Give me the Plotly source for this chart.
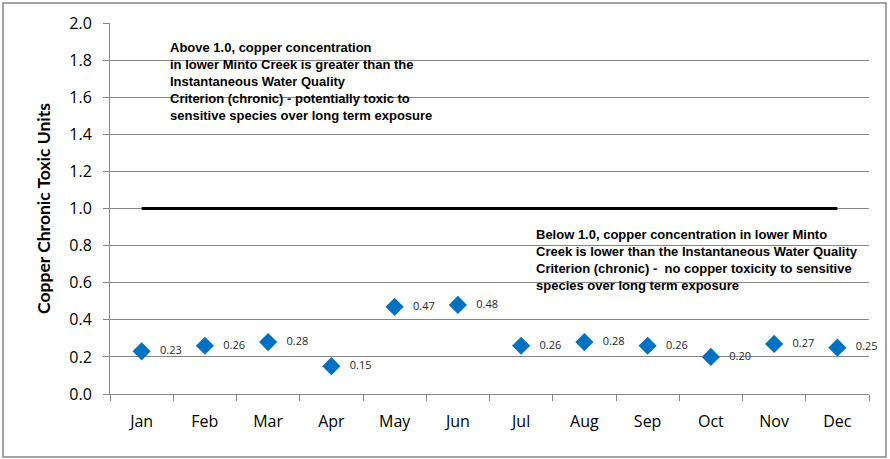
import plotly.graph_objects as go

months = ["Jan", "Feb", "Mar", "Apr", "May", "Jun", "Jul", "Aug", "Sep", "Oct", "Nov", "Dec"]
toxic_units = [0.23, 0.26, 0.28, 0.15, 0.47, 0.48, 0.26, 0.28, 0.26, 0.20, 0.27, 0.25]
threshold = [1.0] * 12
y_ticks = [0.0, 0.2, 0.4, 0.6, 0.8, 1.0, 1.2, 1.4, 1.6, 1.8, 2.0]

above_text = ("<b>Above 1.0, copper concentration<br>in lower Minto Creek is greater than the<br>"
              "Instantaneous Water Quality<br>Criterion (chronic) - potentially toxic to<br>"
              "sensitive species over long term exposure</b>")
below_text = ("<b>Below 1.0, copper concentration in lower Minto<br>Creek is lower than the Instantaneous Water Quality<br>"
              "Criterion (chronic) -  no copper toxicity to sensitive<br>species over long term exposure</b>")

tick_font = "Open Sans, Noto Sans, sans-serif"

fig = go.Figure()
fig.add_trace(go.Scatter(
    x=months, y=threshold, mode="lines",
    line=dict(color="black", width=3), hoverinfo="skip", showlegend=False))
fig.add_trace(go.Scatter(
    x=months, y=toxic_units, mode="markers+text",
    marker=dict(symbol="diamond", size=14, color="#0070C0"),
    text=["\u00a0\u00a0\u00a0" + f"{v:.2f}" for v in toxic_units], textposition="middle right",
    textfont=dict(family=tick_font, size=11, color="#262626"),
    cliponaxis=False, showlegend=False))

fig.add_annotation(x=0.077, y=0.96, xref="paper", yref="paper", xanchor="left", yanchor="top",
                   text=above_text, showarrow=False, align="left",
                   font=dict(family="Liberation Sans, Arial, sans-serif", size=13, color="black"))
fig.add_annotation(x=0.558, y=0.455, xref="paper", yref="paper", xanchor="left", yanchor="top",
                   text=below_text, showarrow=False, align="left",
                   font=dict(family="Liberation Sans, Arial, sans-serif", size=13, color="black"))

fig.update_layout(
    width=890, height=459,
    margin=dict(l=110, r=21, t=23, b=65),
    paper_bgcolor="white", plot_bgcolor="white",
    font=dict(family=tick_font, size=16, color="black"),
    shapes=[dict(type="rect", xref="paper", yref="paper",
                 x0=-107/759, x1=(886-110)/759, y0=-(457-394)/371, y1=(394-3)/371,
                 line=dict(color="#868686", width=1.5))],
)
fig.update_xaxes(
    type="category", range=[-0.5, 11.5], tickson="boundaries",
    ticks="outside", ticklen=6, tickcolor="#868686",
    showline=True, linecolor="#868686", linewidth=1,
    showgrid=False, tickfont=dict(family=tick_font, size=16), ticklabelstandoff=13)
fig.update_yaxes(
    range=[0, 2.0], tickvals=y_ticks, tickformat=".1f",
    ticks="outside", ticklen=6, tickcolor="#868686",
    showline=True, linecolor="#868686", linewidth=1,
    showgrid=True, gridcolor="#868686", gridwidth=1, zeroline=False,
    tickfont=dict(family=tick_font, size=16), ticklabelstandoff=8,
    title=dict(text="<b>Copper Chronic Toxic Units</b>",
               font=dict(family="Lato, Open Sans, sans-serif", size=17.5), standoff=14))

fig.write_html("out.html")
